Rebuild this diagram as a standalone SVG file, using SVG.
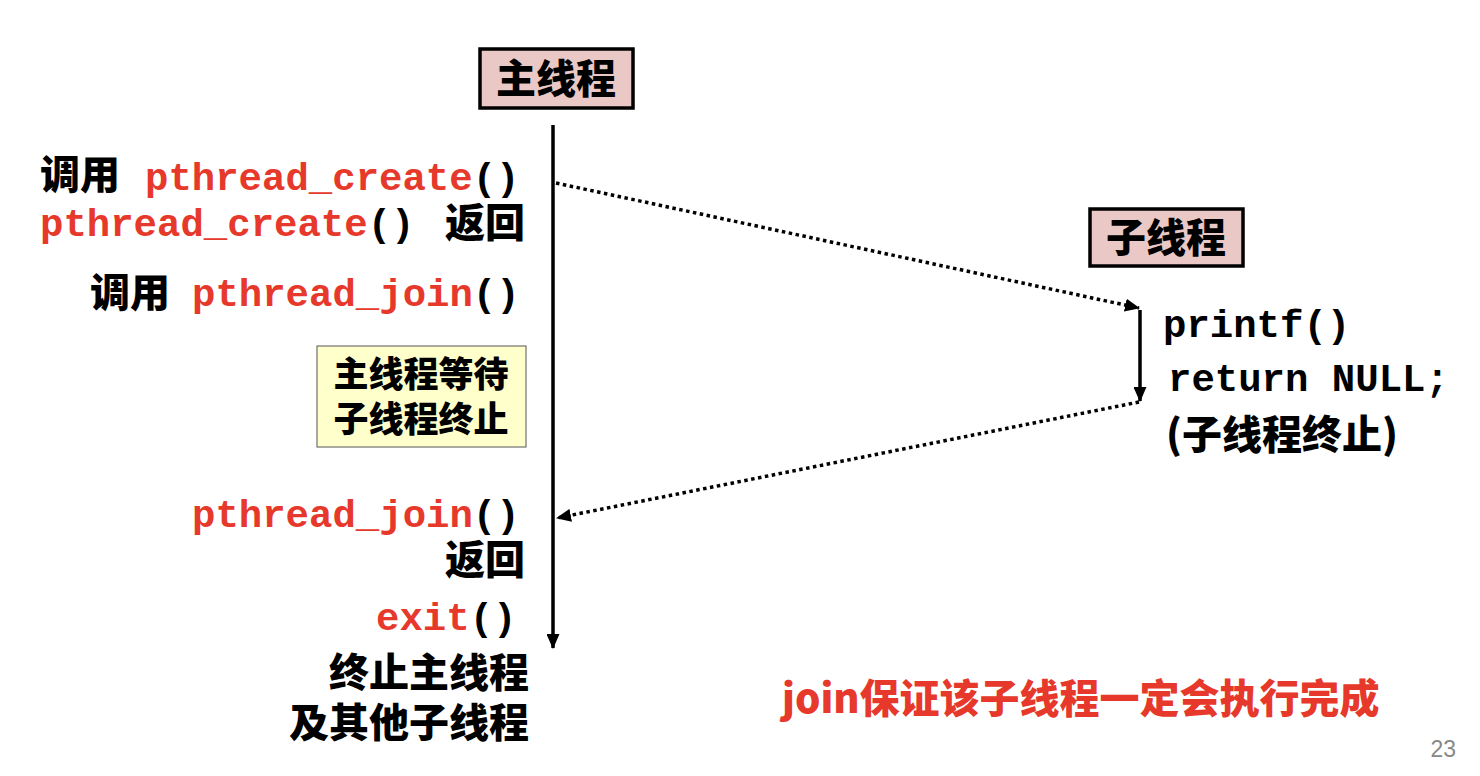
<svg xmlns="http://www.w3.org/2000/svg" width="1480" height="776" viewBox="0 0 1480 776">
<style>
.cjk{font-family:"Noto Sans CJK SC","Noto Sans",sans-serif;font-weight:900;font-size:40px;fill:#000}
.cjk35{font-family:"Noto Sans CJK SC","Noto Sans",sans-serif;font-weight:900;font-size:35px;fill:#000}
.mono{font-family:"Liberation Mono","Courier New",monospace;font-weight:bold;font-size:39px;fill:#000}
.red{fill:#E6392B}
.line{stroke:#000;stroke-width:3.5;fill:none}
.dot{stroke:#000;stroke-width:3.5;fill:none;stroke-dasharray:3.5 3.5}
</style>
<defs>
<marker id="ah" markerWidth="15" markerHeight="13" refX="14" refY="6.5" orient="auto" markerUnits="userSpaceOnUse">
<path d="M0,0 L15,6.5 L0,13 Z" fill="#000"/>
</marker>
</defs>
<rect width="1480" height="776" fill="#fff"/>

<g id="main-thread">
<rect x="480" y="49" width="153" height="59" fill="#EAC8C5" stroke="#000" stroke-width="3.5"/>
<text class="cjk" x="556" y="93" text-anchor="middle">主线程</text>
</g>

<g id="child-thread">
<rect x="1090" y="209" width="153" height="57" fill="#EAC8C5" stroke="#000" stroke-width="3.5"/>
<text class="cjk" x="1166" y="252" text-anchor="middle">子线程</text>
</g>

<g id="wait-note">
<rect x="317" y="346" width="209" height="101" fill="#FFFFCC" stroke="#555" stroke-width="1"/>
<text class="cjk35" x="421" y="387" text-anchor="middle">主线程等待</text>
<text class="cjk35" x="421" y="432" text-anchor="middle">子线程终止</text>
</g>

<g id="main-labels">
<text class="cjk" x="40" y="189">调用</text>
<text class="mono" x="145" y="190"><tspan class="red">pthread_create</tspan>()</text>
<text class="mono" x="40" y="236"><tspan class="red">pthread_create</tspan>()</text>
<text class="cjk" x="445" y="237">返回</text>
<text class="cjk" x="90" y="307">调用</text>
<text class="mono" x="192" y="306"><tspan class="red">pthread_join</tspan>()</text>
<text class="mono" x="192" y="527"><tspan class="red">pthread_join</tspan>()</text>
<text class="cjk" x="525" y="574" text-anchor="end">返回</text>
<text class="mono" x="376" y="630"><tspan class="red">exit</tspan>()</text>
<text class="cjk" x="529" y="687" text-anchor="end">终止主线程</text>
<text class="cjk" x="529" y="737" text-anchor="end">及其他子线程</text>
</g>

<g id="child-labels">
<text class="mono" x="1163" y="337">printf()</text>
<text class="mono" x="1168" y="391">return NULL;</text>
<text class="cjk" x="1166" y="449">(子线程终止)</text>
</g>

<g id="connectors">
<line class="line" x1="553" y1="125" x2="553" y2="648" marker-end="url(#ah)"/>
<line class="line" x1="1140" y1="310" x2="1140" y2="401" marker-end="url(#ah)"/>
<line class="dot" x1="556" y1="183" x2="1139" y2="308" marker-end="url(#ah)"/>
<line class="dot" x1="1139" y1="402" x2="557" y2="518" marker-end="url(#ah)"/>
</g>

<g id="footer">
<text class="cjk red" x="782" y="713" style="font-size:40px">join保证该子线程一定会执行完成</text>
<text x="1456" y="757" text-anchor="end" font-family="Liberation Sans, Arial, sans-serif" font-size="23" fill="#888">23</text>
</g>
</svg>
